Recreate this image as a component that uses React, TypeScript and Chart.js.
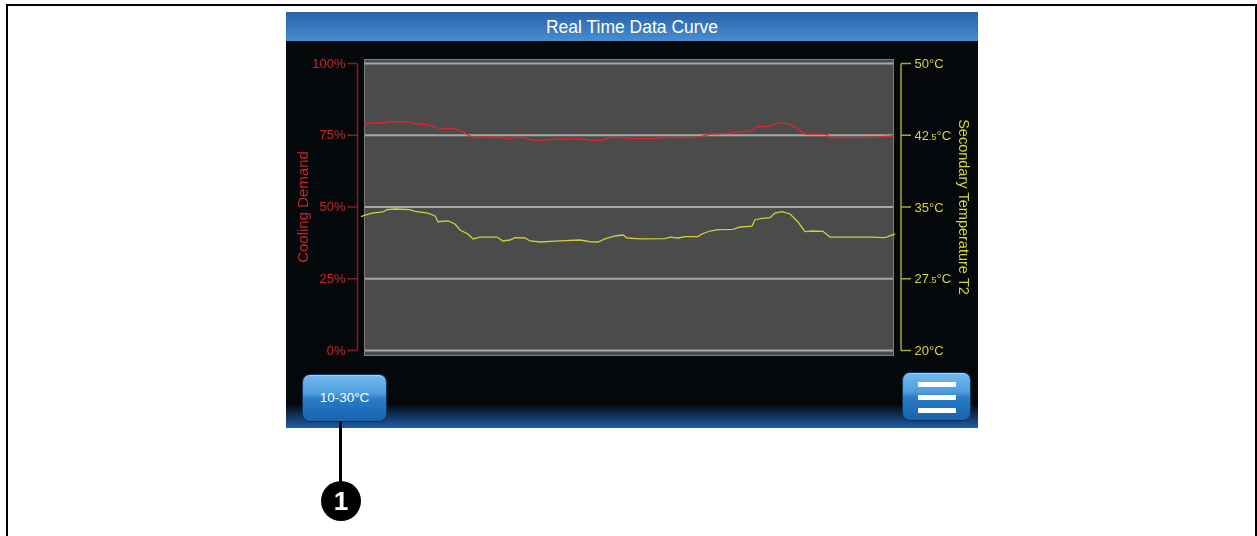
import React, { useEffect, useRef } from "react";
import { Chart, registerables } from "chart.js";
Chart.register(...registerables);

// ---- data (time index 0..100 across the plot) ----
const coolingTime = [0, 1.13, 2.08, 3.96, 4.91, 6.79, 8.68, 10.19, 12.08, 13.96, 16.6, 18.11, 19.62, 20.75, 21.89, 25.66, 26.6, 27.92, 29.43, 30.38, 31.89, 34.15, 36.98, 40.75, 42.64, 44.53, 46.04, 48.3, 49.81, 52.08, 53.96, 55.85, 57.36, 59.25, 63.4, 65.28, 69.06, 70.0, 73.21, 73.96, 76.6, 77.55, 78.87, 80.38, 82.26, 83.21, 86.04, 87.36, 87.92, 93.58, 97.36, 99.25, 100];
const coolingDemand = [78.6, 79.2, 79.4, 79.3, 79.7, 79.7, 79.6, 78.9, 78.7, 77.5, 77.4, 76.8, 75.1, 74.0, 74.4, 74.3, 73.7, 74.0, 74.4, 74.0, 73.3, 73.3, 73.7, 73.8, 73.3, 73.1, 74.0, 74.4, 73.9, 73.8, 73.8, 74.0, 74.4, 74.0, 74.4, 75.4, 75.7, 76.1, 76.5, 77.9, 78.2, 78.9, 79.3, 78.8, 76.8, 75.4, 75.4, 75.2, 74.1, 74.2, 74.4, 74.7, 74.9];

const tempTime = [-0.57, 0.19, 1.51, 3.58, 4.34, 5.85, 8.68, 9.62, 12.08, 13.4, 13.96, 15.85, 17.17, 18.11, 19.62, 20.0, 20.57, 21.89, 25.09, 26.23, 27.55, 28.49, 30.38, 31.32, 33.21, 36.98, 40.75, 42.64, 44.15, 45.47, 47.36, 48.87, 49.62, 52.08, 56.79, 57.74, 59.25, 60.57, 63.02, 63.77, 65.28, 66.79, 69.62, 70.94, 73.21, 73.77, 75.09, 76.6, 77.55, 78.87, 80.38, 81.89, 83.21, 84.53, 86.6, 87.92, 90.75, 95.47, 98.3, 100.19, 101.13];
const secondaryTemp = [33.99, 34.16, 34.37, 34.48, 34.72, 34.79, 34.72, 34.55, 34.37, 34.06, 33.46, 33.54, 33.22, 32.6, 32.18, 31.97, 31.66, 31.86, 31.86, 31.45, 31.55, 31.79, 31.76, 31.45, 31.34, 31.45, 31.55, 31.37, 31.34, 31.66, 31.97, 32.07, 31.76, 31.66, 31.69, 31.86, 31.76, 31.9, 31.9, 32.18, 32.49, 32.63, 32.67, 32.91, 33.01, 33.67, 33.82, 33.88, 34.37, 34.51, 34.27, 33.43, 32.42, 32.49, 32.46, 31.86, 31.86, 31.86, 31.79, 32.18, 32.39];

const leftTickValues = [0, 25, 50, 75, 100];
const leftTickLabels = ["0%", "25%", "50%", "75%", "100%"];
const rightTickValues = [20, 27.5, 35, 42.5, 50];
const rightTickLabels = ["20°C", "27.5°C", "35°C", "42.5°C", "50°C"];

const titleText = "Real Time Data Curve";
const leftAxisTitle = "Cooling Demand";
const rightAxisTitle = "Secondary Temperature T2";
const buttonLabel = "10-30°C";
const calloutNumber = "1";

const FONT = '"Liberation Sans", Arial, sans-serif';
const RED_AXIS = "#8a1c1e";
const RED_TEXT = "#d4232a";
const YEL_AXIS = "#a9a92c";
const YEL_TEXT = "#d6d634";

function drawTempLabel(ctx: CanvasRenderingContext2D, label: string, x: number, y: number) {
  // render "27.5°C" with a smaller ".5" like the reference
  const m = label.match(/^(\d+)(\.\d+)(.*)$/);
  ctx.textAlign = "left";
  ctx.textBaseline = "alphabetic";
  const base = y + 4.5;
  if (!m) {
    ctx.font = `13px ${FONT}`;
    ctx.fillText(label, x, base);
    return;
  }
  ctx.font = `13px ${FONT}`;
  ctx.fillText(m[1], x, base);
  let cx = x + ctx.measureText(m[1]).width;
  ctx.font = `9px ${FONT}`;
  ctx.fillText(m[2], cx, base);
  cx += ctx.measureText(m[2]).width;
  ctx.font = `13px ${FONT}`;
  ctx.fillText(m[3], cx, base);
}

const screenPlugin = {
  id: "screenAxes",
  beforeDatasetsDraw(chart: any) {
    const { ctx, chartArea: a, scales } = chart;
    const yl = scales.yLeft;
    ctx.save();
    ctx.fillStyle = "#4b4b4b";
    ctx.fillRect(a.left, a.top - 4.5, a.right - a.left, a.bottom - a.top + 10);
    ctx.strokeStyle = "#7d7d7d";
    ctx.lineWidth = 1;
    ctx.strokeRect(a.left + 0.5, a.top - 4, a.right - a.left - 1, a.bottom - a.top + 9);
    ctx.strokeStyle = "#a6a6a6";
    ctx.lineWidth = 2;
    leftTickValues.forEach((v) => {
      const y = yl.getPixelForValue(v);
      ctx.beginPath();
      ctx.moveTo(a.left + 1, y);
      ctx.lineTo(a.right - 1, y);
      ctx.stroke();
    });
    ctx.restore();
  },
  afterDraw(chart: any) {
    const { ctx, chartArea: a, scales } = chart;
    const yl = scales.yLeft;
    const yr = scales.yRight;
    ctx.save();
    // left axis
    const lx = a.left - 6.5;
    ctx.strokeStyle = RED_AXIS;
    ctx.lineWidth = 1.5;
    ctx.beginPath();
    ctx.moveTo(lx, yl.getPixelForValue(0));
    ctx.lineTo(lx, yl.getPixelForValue(100));
    ctx.stroke();
    ctx.fillStyle = RED_TEXT;
    ctx.font = `13px ${FONT}`;
    ctx.textAlign = "right";
    ctx.textBaseline = "middle";
    leftTickValues.forEach((v, i) => {
      const y = yl.getPixelForValue(v);
      ctx.beginPath();
      ctx.moveTo(lx, y);
      ctx.lineTo(lx - 10, y);
      ctx.stroke();
      ctx.fillText(leftTickLabels[i], lx - 12, y + 0.5);
    });
    ctx.save();
    ctx.translate(a.left - 60.5, (a.top + a.bottom) / 2);
    ctx.rotate(-Math.PI / 2);
    ctx.font = `15px ${FONT}`;
    ctx.textAlign = "center";
    ctx.textBaseline = "middle";
    ctx.fillStyle = "#cc2329";
    ctx.fillText(leftAxisTitle, 0, 0);
    ctx.restore();

    // right axis
    const rx = a.right + 7;
    ctx.strokeStyle = YEL_AXIS;
    ctx.lineWidth = 1.5;
    ctx.beginPath();
    ctx.moveTo(rx, yr.getPixelForValue(20));
    ctx.lineTo(rx, yr.getPixelForValue(50));
    ctx.stroke();
    ctx.fillStyle = YEL_TEXT;
    rightTickValues.forEach((v, i) => {
      const y = yr.getPixelForValue(v);
      ctx.beginPath();
      ctx.moveTo(rx, y);
      ctx.lineTo(rx + 10, y);
      ctx.stroke();
      drawTempLabel(ctx, rightTickLabels[i], rx + 13.5, y);
    });
    ctx.save();
    ctx.translate(a.right + 68.5, (a.top + a.bottom) / 2);
    ctx.rotate(Math.PI / 2);
    ctx.font = `14.5px ${FONT}`;
    ctx.textAlign = "center";
    ctx.textBaseline = "middle";
    ctx.fillStyle = YEL_TEXT;
    ctx.fillText(rightAxisTitle, 0, 0);
    ctx.restore();
    ctx.restore();
  },
};

export default function App() {
  const canvasRef = useRef<HTMLCanvasElement | null>(null);

  useEffect(() => {
    if (!canvasRef.current) return;
    const chart = new Chart(canvasRef.current, {
      type: "line",
      data: {
        datasets: [
          {
            label: leftAxisTitle,
            data: coolingTime.map((t, i) => ({ x: t, y: coolingDemand[i] })),
            yAxisID: "yLeft",
            borderColor: "#e0262b",
            borderWidth: 1.3,
            pointRadius: 0,
            tension: 0,
            clip: false as any,
          },
          {
            label: rightAxisTitle,
            data: tempTime.map((t, i) => ({ x: t, y: secondaryTemp[i] })),
            yAxisID: "yRight",
            borderColor: "#cfcf36",
            borderWidth: 1.3,
            pointRadius: 0,
            tension: 0,
            clip: false as any,
          },
        ],
      },
      options: {
        animation: false,
        responsive: false,
        maintainAspectRatio: false,
        devicePixelRatio: 1,
        events: [],
        layout: { padding: { left: 78, right: 84, top: 22.5, bottom: 55.5 } },
        plugins: { legend: { display: false }, tooltip: { enabled: false }, title: { display: false } },
        scales: {
          x: { type: "linear", min: 0, max: 100, display: false },
          yLeft: { type: "linear", position: "left", min: 0, max: 100, display: false },
          yRight: { type: "linear", position: "right", min: 20, max: 50, display: false },
        },
      },
      plugins: [screenPlugin],
    });
    return () => chart.destroy();
  }, []);

  const btnBase: React.CSSProperties = {
    position: "absolute",
    borderRadius: 7,
    background:
      "linear-gradient(to bottom, #74b9ec 0%, #4f9ddd 40%, #2a7cc6 52%, #1f6db8 80%, #1b63ab 100%)",
    boxShadow: "0 0 0 1px #0d355f, inset 0 1px 0 rgba(255,255,255,0.35)",
  };

  return (
    <div style={{ position: "absolute", left: 0, top: 0, width: 1257, height: 536, overflow: "hidden", background: "#fff", fontFamily: FONT }}>
      <div style={{ position: "absolute", left: 6, top: 4, width: 1251, height: 620, border: "2px solid #000", boxSizing: "border-box" }} />
      <div style={{ position: "absolute", left: 286, top: 12, width: 692, height: 416, background: "#05080a", overflow: "hidden" }}>
        <div style={{ position: "absolute", left: 0, top: 0, width: 692, height: 29, background: "linear-gradient(to bottom, #2865aa 0%, #3979bf 55%, #4a8dd0 100%)", color: "#fff", fontSize: 17.5, lineHeight: "30px", textAlign: "center" }}>
          {titleText}
        </div>
        <div style={{ position: "absolute", left: 0, top: 392, width: 692, height: 24, background: "linear-gradient(to bottom, rgba(5,8,10,1) 0%, #0f2f55 45%, #1d5ea8 100%)" }} />
        <div style={{ ...btnBase, left: 17, top: 363, width: 83, height: 46, color: "#fff", fontSize: 13.5, lineHeight: "46px", textAlign: "center" }}>
          {buttonLabel}
        </div>
        <div style={{ ...btnBase, left: 617, top: 361, width: 67, height: 47 }}>
          <div style={{ position: "absolute", left: 15, top: 9, width: 38, height: 5, background: "#fff" }} />
          <div style={{ position: "absolute", left: 15, top: 22, width: 38, height: 5, background: "#fff" }} />
          <div style={{ position: "absolute", left: 15, top: 35, width: 38, height: 5, background: "#fff" }} />
        </div>
      </div>
      <canvas ref={canvasRef} width={692} height={365} style={{ position: "absolute", left: 286, top: 41, width: 692, height: 365 }} />
      <div style={{ position: "absolute", left: 338.5, top: 421, width: 3, height: 62, background: "#000" }} />
      <div style={{ position: "absolute", left: 321, top: 480.5, width: 40, height: 40, borderRadius: "50%", background: "#000", color: "#fff", fontWeight: "bold", fontSize: 26, lineHeight: "40px", textAlign: "center" }}>
        {calloutNumber}
      </div>
    </div>
  );
}
